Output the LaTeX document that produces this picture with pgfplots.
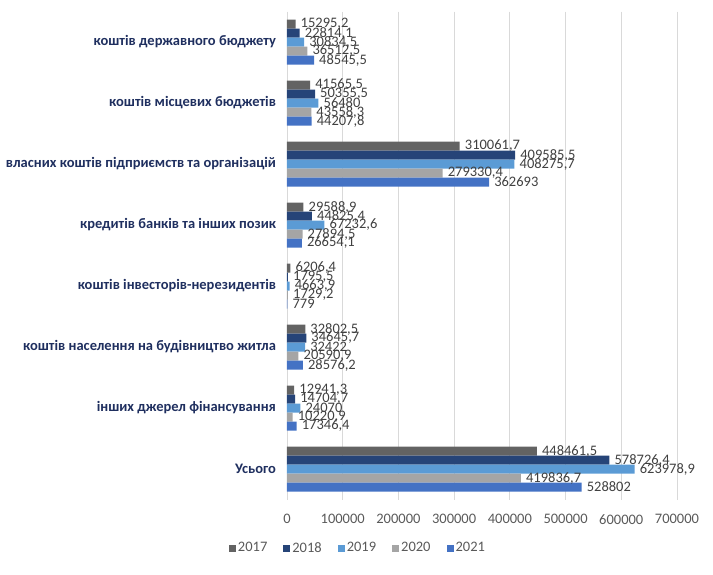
\documentclass[border=0pt]{standalone}
\usepackage{fontspec}
\setmainfont{Carlito}
\usepackage{pgfplots}
\pgfplotsset{compat=1.18}
\definecolor{cA}{HTML}{636363}
\definecolor{cB}{HTML}{264478}
\definecolor{cC}{HTML}{5B9BD5}
\definecolor{cD}{HTML}{A5A5A5}
\definecolor{cE}{HTML}{4472C4}
\definecolor{catcol}{HTML}{1F2F5F}
\definecolor{tickgray}{HTML}{595959}
\definecolor{labgray}{HTML}{404040}
\definecolor{gridgray}{HTML}{D9D9D9}
\begin{document}
\fontsize{14.5}{17}\selectfont
\begin{tikzpicture}[x=1pt,y=1pt]
\begin{axis}[
  at={(0,0)}, anchor=south west,
  scale only axis, width=390pt, height=488pt,
  xbar, bar width=9pt,
  xmin=0, xmax=700000,
  ymin=-0.5, ymax=7.5, y dir=reverse,
  enlargelimits=false,
  ytick={0,...,7},
  yticklabels={коштів державного бюджету, коштів місцевих бюджетів, власних коштів підприємств та організацій, кредитів банків та інших позик, коштів інвесторів-нерезидентів, коштів населення на будівництво житла, інших джерел фінансування, Усього},
  yticklabel style={font=\fontsize{14.5}{17}\selectfont\bfseries, text=catcol, xshift=-6pt},
  xtick={0,100000,200000,300000,400000,500000,600000,700000},
  scaled x ticks=false,
  xticklabel style={text=tickgray, yshift=-10pt},
  /pgf/number format/.cd, fixed, precision=1, use comma, 1000 sep={}, assume math mode=true,
  /pgfplots/.cd,
  xmajorgrids, grid style={draw=gridgray, line width=0.8pt},
  axis line style={draw=none},
  major tick length=0pt,
  point meta=x,
  nodes near coords,
  nodes near coords style={font=\fontsize{14.5}{17}\selectfont, text=labgray, anchor=west, xshift=4pt, inner sep=1pt},
  legend columns=5,
  legend style={draw=none, fill=none, at={(0.182,-0.1)}, anchor=center, font=\fontsize{14.5}{17}\selectfont, text=tickgray,
    /tikz/every even column/.append style={column sep=14pt}},
  legend image code/.code={\fill[#1] (0pt,-3.5pt) rectangle (7pt,3.5pt);},
]
\addplot[fill=cA, draw=none, bar shift=18pt] coordinates {(15295.2,0) (41565.5,1) (310061.7,2) (29588.9,3) (6206.4,4) (32802.5,5) (12941.3,6) (448461.5,7)};
\addplot[fill=cB, draw=none, bar shift=9pt] coordinates {(22814.1,0) (50355.5,1) (409585.5,2) (44825.4,3) (1795.5,4) (34645.7,5) (14704.7,6) (578726.4,7)};
\addplot[fill=cC, draw=none, bar shift=0pt] coordinates {(30834.5,0) (56480,1) (408275.7,2) (67232.6,3) (4663.9,4) (32422,5) (24070,6) (623978.9,7)};
\addplot[fill=cD, draw=none, bar shift=-9pt] coordinates {(36512.5,0) (43558.3,1) (279330.4,2) (27894.5,3) (1729.2,4) (20590.9,5) (10220.9,6) (419836.7,7)};
\addplot[fill=cE, draw=none, bar shift=-18pt] coordinates {(48545.5,0) (44207.8,1) (362693,2) (26654.1,3) (779,4) (28576.2,5) (17346.4,6) (528802,7)};
\legend{2017,2018,2019,2020,2021}
\end{axis}
\pgfresetboundingbox
\path (-287,-74.5) rectangle (426,499.5);
\end{tikzpicture}
\end{document}
